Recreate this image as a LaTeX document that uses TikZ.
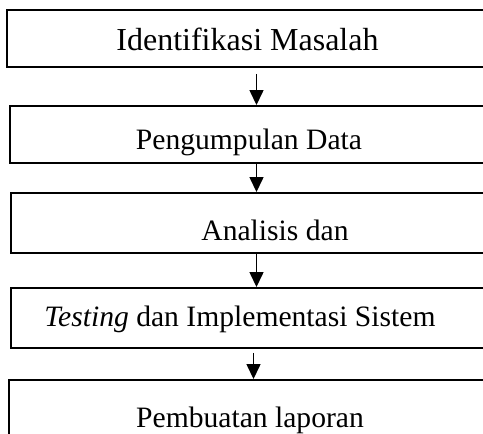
\documentclass[tikz,border=0pt]{standalone}
\usepackage{fontspec}
\setmainfont{Liberation Serif}
\usetikzlibrary{arrows.meta}

\begin{document}
\begin{tikzpicture}[
    x=0.5pt, y=-0.5pt,
    stepbox/.style={draw, line width=0.95pt, inner sep=0pt},
    steptext/.style={anchor=base, inner sep=0pt, font=\fontsize{14.8pt}{17pt}\selectfont},
    flow/.style={-{Triangle[length=7.5pt, width=7pt]}, line width=0.7pt}
]
\useasboundingbox (0,0) rectangle (483,434);
% boxes run past the right and bottom edge
\node[stepbox, minimum width=246.5pt, minimum height=28.5pt] (ident) at (253.5,38.5) {};
\node[stepbox, minimum width=245pt, minimum height=28.5pt] (kumpul) at (255,134.5) {};
\node[stepbox, minimum width=244.5pt, minimum height=30pt] (analisis) at (255.5,223) {};
\node[stepbox, minimum width=244.5pt, minimum height=30pt] (testing) at (255.5,318) {};
\node[stepbox, minimum width=245.5pt, minimum height=32.5pt] (laporan) at (254.5,412.5) {};
% labels
\node[steptext, font=\fontsize{16pt}{19pt}\selectfont] (identtxt) at (247.5,50) {Identifikasi Masalah};
\node[steptext] (kumpultxt) at (249,149) {Pengumpulan Data};
\node[steptext] (analisistxt) at (275,240.5) {Analisis dan};
\node[steptext] (testingtxt) at (240,326.5) {\textit{Testing} dan Implementasi Sistem};
\node[steptext] (laporantxt) at (250,427) {Pembuatan laporan};
% arrows
\coordinate (axis) at (256.5,0);
\coordinate (axisb) at (253.5,0);
\draw[flow, shorten <=3pt] (ident.south -| axis) -- (kumpul.north -| axis);
\draw[flow] (kumpul.south -| axis) -- (analisis.north -| axis);
\draw[flow] (analisis.south -| axis) -- (testing.north -| axis);
\draw[flow, shorten <=2pt] (testing.south -| axisb) -- (laporan.north -| axisb);
\end{tikzpicture}
\end{document}
